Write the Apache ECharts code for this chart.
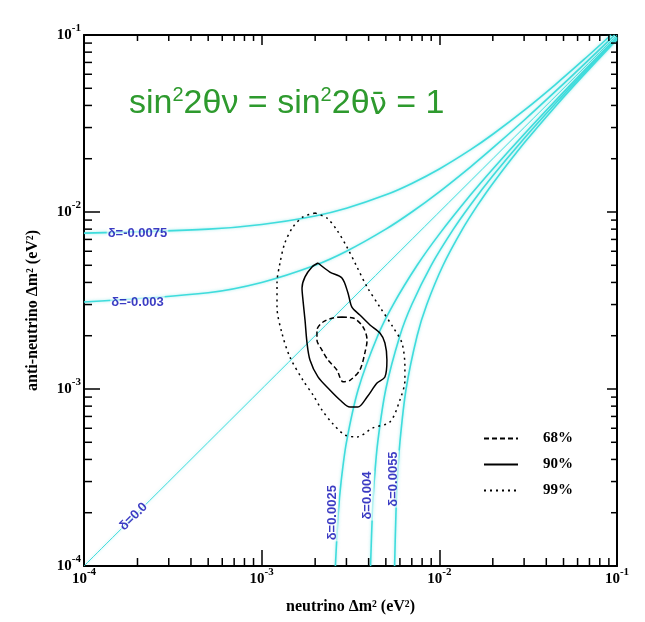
<!DOCTYPE html>
<html>
<head>
<meta charset="utf-8">
<script src="https://cdn.jsdelivr.net/npm/echarts@6/dist/echarts.min.js"></script>
<style>
html,body{margin:0;padding:0;background:#fff;}
#main{width:645px;height:622px;}
</style>
</head>
<body>
<div id="main"></div>
<script>
// cyan curves, labelled by delta (neutrino dm2 - antineutrino dm2)
var curveM0075 = [[1e-4,0.0076],[5e-4,0.008],[1e-3,0.0085],[2e-3,0.0095],[3e-3,0.0105],[5e-3,0.0125],[7e-3,0.0145],[0.01,0.0175],[0.015,0.0225],[0.02,0.0275],[0.03,0.0375],[0.045,0.0525],[0.065,0.0725],[0.0925,0.1]];
var curveM003 = [[1e-4,0.0031],[5e-4,0.0035],[1e-3,0.004],[2e-3,0.005],[3e-3,0.006],[5e-3,0.008],[7e-3,0.01],[0.01,0.013],[0.015,0.018],[0.02,0.023],[0.03,0.033],[0.045,0.048],[0.065,0.068],[0.097,0.1]];
var curve0 = [[1e-4,1e-4],[0.1,0.1]];
var curveP0025 = [[0.0026,1e-4],[0.0027,2e-4],[0.0028,3e-4],[0.003,5e-4],[0.0035,0.001],[0.0045,0.002],[0.0055,0.003],[0.0075,0.005],[0.01,0.0075],[0.015,0.0125],[0.02,0.0175],[0.03,0.0275],[0.045,0.0425],[0.065,0.0625],[0.1,0.0975]];
var curveP004 = [[0.0041,1e-4],[0.0042,2e-4],[0.0043,3e-4],[0.0045,5e-4],[0.005,0.001],[0.006,0.002],[0.007,0.003],[0.009,0.005],[0.012,0.008],[0.015,0.011],[0.02,0.016],[0.03,0.026],[0.045,0.041],[0.065,0.061],[0.1,0.096]];
var curveP0055 = [[0.0056,1e-4],[0.0057,2e-4],[0.0058,3e-4],[0.006,5e-4],[0.0065,0.001],[0.0075,0.002],[0.0085,0.003],[0.0105,0.005],[0.0135,0.008],[0.0165,0.011],[0.02,0.0145],[0.03,0.0245],[0.045,0.0395],[0.065,0.0595],[0.1,0.0945]];

// confidence contours
var c68x = [0.00283,0.00327,0.00372,0.00392,0.00381,0.00357,0.00314,0.00287,0.00265,0.00236,0.002184,0.002047,0.002047,0.002214,0.00252,0.00283];
var c68y = [0.00255,0.00252,0.00224,0.00189,0.0016,0.00128,0.00112,0.0011,0.00128,0.00146,0.00166,0.00189,0.00215,0.00239,0.00252,0.00255];
var c90x = [0.002075,0.00242,0.00283,0.00306,0.00322,0.00357,0.00407,0.00463,0.00494,0.00507,0.00494,0.00446,0.00392,0.00348,0.00314,0.00276,0.00242,0.002075,0.00187,0.0018,0.001754,0.001708,0.001687,0.001754,0.00192,0.002075];
var c90y = [0.00515,0.00458,0.00424,0.00349,0.0029,0.00262,0.0023,0.00207,0.00182,0.00146,0.00117,0.00108,0.000901,0.000791,0.000791,0.000867,0.000987,0.00117,0.00146,0.00182,0.00245,0.00318,0.00372,0.0043,0.00489,0.00515];
var c99x = [0.001995,0.00233,0.00265,0.00302,0.00344,0.00392,0.00463,0.00548,0.00616,0.0064,0.0064,0.006,0.00527,0.00423,0.00344,0.00294,0.00249,0.002184,0.001945,0.001708,0.00144,0.0013,0.00122,0.00122,0.001268,0.00135,0.0015,0.001708,0.001995];
var c99y = [0.00986,0.00925,0.00791,0.00634,0.00489,0.00377,0.0029,0.00224,0.00182,0.00133,0.00112,0.000867,0.000651,0.000603,0.000536,0.00055,0.000643,0.000761,0.000925,0.00112,0.00152,0.00207,0.0029,0.00397,0.00515,0.00668,0.00822,0.00938,0.00986];

// curve labels
var labelText = ['δ=-0.0075','δ=-0.003','δ=0.0','δ=0.0025','δ=0.004','δ=0.0055'];
var labelX = [2.0e-4, 2.0e-4, 1.9e-4, 0.00249, 0.00396, 0.00548];
var labelY = [0.0076, 0.0031, 1.9e-4, 0.0002, 0.00025, 0.00031];
var labelRot = [0, 0, 45, 90, 90, 90];

// minor tick values
var minorTicks = [2e-4,3e-4,4e-4,5e-4,6e-4,7e-4,8e-4,9e-4,2e-3,3e-3,4e-3,5e-3,6e-3,7e-3,8e-3,9e-3,2e-2,3e-2,4e-2,5e-2,6e-2,7e-2,8e-2,9e-2];

var legendNames = ['68%','90%','99%'];

function zip(xs, ys){
    return xs.map(function(x, i){ return [x, ys[i]]; });
}

var cyan = '#3fdcdc';
var serif = 'Liberation Serif';
var green = '#2e9a2e';

var tickRich = {
    b: {fontFamily: serif, fontWeight: 'bold', fontSize: 15, color: '#000', lineHeight: 16, verticalAlign: 'bottom'},
    s: {fontFamily: serif, fontWeight: 'bold', fontSize: 11, color: '#000', lineHeight: 12, padding: [0,0,9,0], verticalAlign: 'bottom'}
};
function expLabel(v){
    var e = Math.round(Math.log10(v));
    return '{b|10}{s|' + e + '}';
}

function curveSeries(data, w){
    return {
        type: 'line', data: data, symbol: 'none', smooth: 0.3, silent: true,
        lineStyle: {color: cyan, width: w, shadowColor: 'rgba(64,220,220,0.5)', shadowBlur: 3},
        z: 2
    };
}

function contourSeries(name, data, type){
    return {
        name: name, type: 'line', data: data, symbol: 'none', smooth: 0.3,
        itemStyle: {color: '#000'},
        lineStyle: {color: '#000', width: 1.5, type: type}, z: 3
    };
}

function minorRender(isX){
    return function(params, api){
        var v = api.value(isX ? 0 : 1);
        var a, b, s1, s2;
        if (isX) {
            a = api.coord([v, 1e-4]); b = api.coord([v, 0.1]);
            s1 = {x1:a[0], y1:a[1], x2:a[0], y2:a[1]-8};
            s2 = {x1:b[0], y1:b[1], x2:b[0], y2:b[1]+6};
        } else {
            a = api.coord([1e-4, v]); b = api.coord([0.1, v]);
            s1 = {x1:a[0], y1:a[1], x2:a[0]+8, y2:a[1]};
            s2 = {x1:b[0], y1:b[1], x2:b[0]-6, y2:b[1]};
        }
        return {type:'group', children:[
            {type:'line', shape:s1, style:{stroke:'#000', lineWidth:1.5}},
            {type:'line', shape:s2, style:{stroke:'#000', lineWidth:1.5}}
        ]};
    };
}

var myChart = echarts.init(document.getElementById('main'));
var option = {
    backgroundColor: '#fff',
    animation: false,
    title: {
        left: 124, top: 76,
        text: '{a|sin}{s|2}{a|2θν = sin}{s|2}{a|2θ}{n|ν̄}{a| = 1}',
        textStyle: {
            fontWeight: 'normal',
            rich: {
                a: {fontFamily: 'Liberation Sans', fontWeight: 'normal', fontSize: 34, color: green, lineHeight: 40, verticalAlign: 'bottom'},
                n: {fontFamily: 'DejaVu Sans', fontWeight: 'normal', fontSize: 31, color: green, lineHeight: 40, verticalAlign: 'bottom'},
                s: {fontFamily: 'Liberation Sans', fontWeight: 'normal', fontSize: 20, color: green, lineHeight: 21, padding: [0,0,16,0], verticalAlign: 'bottom'}
            }
        }
    },
    legend: {
        data: legendNames,
        orient: 'vertical',
        left: 478, top: 426,
        itemWidth: 34, itemHeight: 10, itemGap: 11,
        itemStyle: {opacity: 0},
        textStyle: {fontFamily: serif, fontWeight: 'bold', fontSize: 15, color: '#000', padding: [0,0,0,20]}
    },
    grid: {left: 84, right: 28, top: 35, bottom: 56},
    xAxis: [{
        type: 'log', min: 1e-4, max: 0.1, position: 'bottom',
        name: 'neutrino Δm² (eV²)', nameLocation: 'middle', nameGap: 33,
        nameTextStyle: {fontFamily: serif, fontWeight: 'bold', fontSize: 16, color: '#000'},
        axisLine: {lineStyle: {color: '#000', width: 2}},
        axisTick: {inside: true, length: 16, lineStyle: {color: '#000', width: 1.5}},
        axisLabel: {formatter: expLabel, margin: 5, rich: tickRich},
        splitLine: {show: false}
    }, {
        type: 'log', min: 1e-4, max: 0.1, position: 'top',
        axisLine: {lineStyle: {color: '#000', width: 2}},
        axisTick: {inside: true, length: 10, lineStyle: {color: '#000', width: 1.5}},
        axisLabel: {show: false},
        splitLine: {show: false}
    }],
    yAxis: [{
        type: 'log', min: 1e-4, max: 0.1, position: 'left',
        name: 'anti-neutrino Δm² (eV²)', nameLocation: 'middle', nameGap: 43,
        nameTextStyle: {fontFamily: serif, fontWeight: 'bold', fontSize: 16, color: '#000', padding: [0,20,0,0]},
        axisLine: {lineStyle: {color: '#000', width: 2}},
        axisTick: {inside: true, length: 16, lineStyle: {color: '#000', width: 1.5}},
        axisLabel: {formatter: expLabel, margin: 3, rich: tickRich},
        splitLine: {show: false}
    }, {
        type: 'log', min: 1e-4, max: 0.1, position: 'right',
        axisLine: {lineStyle: {color: '#000', width: 2}},
        axisTick: {inside: true, length: 10, lineStyle: {color: '#000', width: 1.5}},
        axisLabel: {show: false},
        splitLine: {show: false}
    }],
    series: [
        curveSeries(curveM0075, 1.6),
        curveSeries(curveM003, 1.6),
        curveSeries(curve0, 1),
        curveSeries(curveP0025, 1.6),
        curveSeries(curveP004, 1.6),
        curveSeries(curveP0055, 1.6),
        contourSeries('68%', zip(c68x, c68y), [5, 3]),
        contourSeries('90%', zip(c90x, c90y), 'solid'),
        contourSeries('99%', zip(c99x, c99y), [2, 4]),
        {
            type: 'scatter', symbolSize: 0, silent: true, z: 5,
            data: labelText.map(function(t, i){
                return {value: [labelX[i], labelY[i]], name: t, label: {rotate: labelRot[i]}};
            }),
            label: {
                show: true, position: 'inside', formatter: '{b}',
                fontFamily: 'Liberation Sans', fontWeight: 'bold', fontSize: 13, color: '#0a0ab4',
                backgroundColor: 'rgba(255,255,255,0.75)', padding: [0, 1]
            }
        },
        {
            type: 'custom', renderItem: minorRender(true), clip: false, silent: true, z: 4,
            data: minorTicks.map(function(v){ return [v, 1e-2]; })
        },
        {
            type: 'custom', renderItem: minorRender(false), clip: false, silent: true, z: 4,
            data: minorTicks.map(function(v){ return [1e-2, v]; })
        }
    ]
};
myChart.setOption(option);
</script>
</body>
</html>
